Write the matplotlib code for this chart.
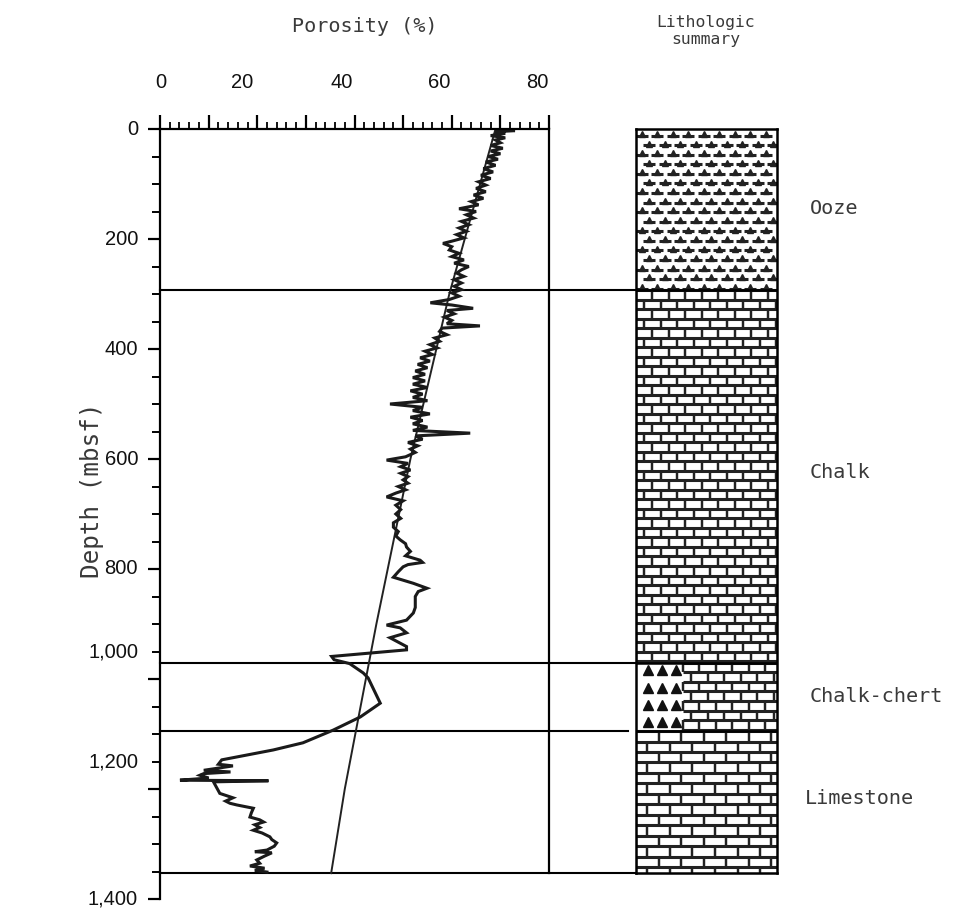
import numpy as np
import matplotlib.pyplot as plt
from matplotlib.ticker import MultipleLocator

# porosity log
depth = [0, 3, 5, 8, 12, 16, 20, 25, 30, 35, 40, 45, 50, 55, 60, 66, 72, 78, 84, 90,
         96, 102, 108, 114, 120, 126, 132, 138, 145, 150, 156, 162, 168, 174, 180, 186,
         192, 198, 204, 208, 214, 220, 226, 232, 238, 244, 250, 256, 262, 268, 274, 280,
         286, 292, 298, 304, 310, 316, 320, 326, 330, 336, 342, 348, 354, 358, 362, 368,
         374, 380, 386, 392, 398, 404, 410, 416, 422, 428, 434, 440, 446, 452, 458, 464,
         470, 476, 482, 488, 494, 500, 506, 512, 518, 524, 530, 536, 542, 548, 553, 558,
         564, 570, 576, 582, 588, 596, 602, 608, 614, 620, 626, 632, 638, 644, 650, 656,
         662, 669, 676, 684, 692, 700, 708, 716, 724, 732, 740, 747, 754, 760, 768, 776,
         784, 788, 792, 796, 805, 815, 826, 835, 841, 850, 860, 870, 880, 893, 902, 907,
         916, 925, 935, 941, 947, 959, 965, 972, 989, 998, 1020, 1044, 1069, 1093, 1116,
         1129, 1147, 1155, 1158, 1162, 1166, 1169, 1172, 1175, 1180, 1184, 1185, 1187,
         1195, 1208, 1216, 1222, 1226, 1229, 1235, 1243, 1251, 1256, 1260, 1265, 1270,
         1275, 1280, 1287, 1292, 1298, 1304, 1311, 1314, 1316, 1322, 1329, 1335, 1340,
         1344, 1348, 1351]
porosity = [71, 73, 69, 71, 68, 71, 69, 70, 68, 70.5, 68, 70, 67.5, 69.5, 67, 69, 66.5, 68.5, 66, 68,
            65.5, 67, 65, 67, 64.5, 66.5, 64, 65.5, 61.5, 65, 63, 64.5, 62, 63.5, 61.5, 63,
            61, 62.5, 60, 58.2, 60, 59.5, 61.5, 60, 62.5, 60.5, 63.5, 62, 61, 62.5, 60.5, 62,
            60.5, 62, 60, 61.5, 59.5, 55.6, 60, 64.4, 59, 60.5, 58.5, 60, 59, 65.8, 58, 57.5,
            59, 56.5, 57.5, 55.5, 57, 54.5, 56, 53.5, 55.5, 53, 55, 52.5, 54.5, 52, 54.5, 52,
            55, 51.5, 54, 52, 55, 47.3, 54, 52, 55.5, 51.5, 54, 52, 55, 52, 63.8, 52.5,
            54, 51, 53, 51.5, 52.5, 50.5, 46.6, 51, 49.5, 51.5, 49.5, 51, 50, 51, 49, 50.5,
            48.5, 46.6, 50, 48.5, 49.5, 48.5, 49.5, 48, 48, 49, 48.5, 49.4, 50.5, 50.7, 51.5, 50.5,
            53.5, 54, 51, 50, 49, 48, 52.1, 54.9, 53.1, 52.5, 52.5, 52.5, 52.1, 50.7, 46.6, 49.4,
            50.7, 47.3, 49.4, 50.7, 50.7, 35.3, 35.8, 39, 41.8, 42.8, 44, 45.3, 41.2, 35.6, 29.4,
            23.3, 12.7, 12, 15, 12, 9, 14.5, 9, 8.2, 10, 4.1, 22.3, 11,
            11.5, 12.3, 15, 13.5, 14.4, 15.8, 19.2, 18.8, 18.5, 20.5, 21.3, 19.5, 20.5,
            19.2, 21, 22.6, 23, 24, 23.5, 22, 19.5, 23, 21.5, 19.9, 20.5, 18.5,
            21.5, 19.5, 22]

# porosity-depth trend line
fit_depth = [0, 300, 600, 900, 1200, 1353]
fit_porosity = [69, 59.5, 51.5, 44.5, 38, 35.2]

# lithologic units
unit_names = ['Ooze', 'Chalk', 'Chalk-chert', 'Limestone']
unit_tops = [0, 293, 971, 1095]
unit_bases = [293, 971, 1095, 1353]

xtick_values = [0, 20, 40, 60, 80]
ytick_values = [0, 200, 400, 600, 800, 1000, 1200, 1400]
ytick_labels = ['0', '200', '400', '600', '800', '1,000', '1,200', '1,400']

W, H = 963, 917
fig = plt.figure(figsize=(W / 100, H / 100), dpi=100)


def px(x0, y0, x1, y1):
    return [x0 / W, 1 - y1 / H, (x1 - x0) / W, (y1 - y0) / H]


tick_font = dict(family='Liberation Sans', fontsize=14.5, color='#111111')
title_font = dict(family='DejaVu Sans Mono', fontsize=14.5, color='#3a3a3a')

ax = fig.add_axes(px(160, 129, 549, 899))
ax.set_xlim(0, 80)
ax.set_ylim(1400, 0)
for s in ['right', 'bottom']:
    ax.spines[s].set_visible(False)
for s in ['top', 'left']:
    ax.spines[s].set_linewidth(1.6)
ax.xaxis.tick_top()
ax.xaxis.set_major_locator(MultipleLocator(10))
ax.xaxis.set_minor_locator(MultipleLocator(2))
ax.yaxis.set_major_locator(MultipleLocator(200))
ax.yaxis.set_minor_locator(MultipleLocator(50))
ax.tick_params(axis='x', which='major', length=10, width=1.6, labeltop=False)
ax.tick_params(axis='x', which='minor', length=5, width=1.3)
ax.tick_params(axis='y', which='major', length=9, width=1.6, labelleft=False)
ax.tick_params(axis='y', which='minor', length=6, width=1.4)

# tick labels (placed as in the original artwork)
xlabel_shift = {0: 0.1, 20: -3.2, 40: -2.6, 60: -2.6, 80: -2.5}
for v in xtick_values:
    ax.text(v + xlabel_shift[v], -85, str(v), ha='center', va='center', clip_on=False, **tick_font)
ylabel_shift = {1000: -50, 1200: -50}
for v, lab in zip(ytick_values, ytick_labels):
    ax.text(-4.5, v + ylabel_shift.get(v, 0), lab, ha='right', va='center', clip_on=False, **tick_font)

# right frame line and unit boundaries
ax.plot([80, 80], [0, unit_bases[-1]], color='black', lw=1.6, clip_on=False)
line_ends = [98, 98, 96.3, 98]
for d, xe in zip(unit_bases, line_ends):
    ax.plot([0, xe], [d, d], color='black', lw=1.5, clip_on=False)

ax.plot(fit_porosity, fit_depth, color='#222222', lw=1.4)
ax.plot(porosity, depth, color='#1a1a1a', lw=2.2, solid_joinstyle='miter')

fig.text(365 / W, 1 - 27 / H, 'Porosity (%)', ha='center', va='center', **title_font)
fig.text(92 / W, 1 - 490 / H, 'Depth (mbsf)', ha='center', va='center', rotation=90,
         **dict(title_font, fontsize=17.5))
fig.text(706 / W, 1 - 31 / H, 'Lithologic\nsummary', ha='center', va='center',
         linespacing=1.15, **dict(title_font, fontsize=11.8))

# lithologic column
lax = fig.add_axes(px(636, 129, 777, 873))
lax.set_xlim(0, 1)
lax.set_ylim(unit_bases[-1], 0)
lax.set_xticks([])
lax.set_yticks([])
for s in lax.spines.values():
    s.set_linewidth(1.8)


def bricks(top, base, x0, x1, dy, dx, lw=2.2):
    rows = np.arange(top, base, dy)
    for i, y in enumerate(rows):
        lax.hlines(y, x0, x1, color='#222222', lw=lw)
        off = (i % 2) * dx / 2
        xs = np.arange(x0 + off, x1, dx)
        lax.vlines(xs, y, min(y + dy, base), color='#222222', lw=lw * 0.8)


# ooze
ooze_rows = np.arange(unit_tops[0] + 9, unit_bases[0] - 4, 17.4)
for i, y in enumerate(ooze_rows):
    off = 0.055 * (i % 2)
    xs = np.arange(0.04 + off, 0.98, 0.11)
    lax.plot(xs, [y + 3] * len(xs), ls='none', marker='_', ms=9, mew=2.2, color='#222222')
    lax.plot(xs, [y] * len(xs), ls='none', marker='^', ms=5, color='#222222')

# chalk
bricks(unit_tops[1], unit_bases[1], 0, 1, 17.3, 0.117)
# chalk-chert
bricks(unit_tops[2], unit_bases[2], 0.333, 1, 17.3, 0.117)
for yy in [984, 1016, 1047, 1078]:
    lax.plot([0.085, 0.184, 0.284], [yy] * 3, ls='none', marker='^', ms=7.5, color='#111111')
# limestone
bricks(unit_tops[3], unit_bases[3], 0, 1, 19, 0.16)

for d in unit_bases[:-1]:
    lax.axhline(d, color='black', lw=1.8)

label_pos = [(810, 208), (810, 473), (810, 697), (805, 798)]
for name, (x, y) in zip(unit_names, label_pos):
    fig.text(x / W, 1 - y / H, name, ha='left', va='center', **title_font)

fig.savefig('out.png', dpi=100)
